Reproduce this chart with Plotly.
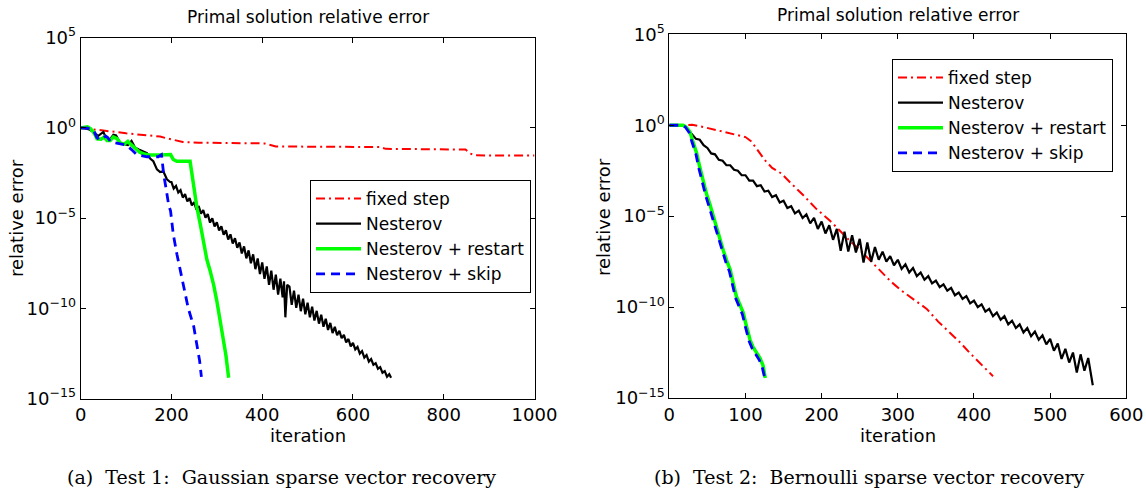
import plotly.graph_objects as go

# ---------------- data (log10 of relative error) ----------------
# Test 1 (left)
a_fixed_it = [0, 25, 50, 75, 100, 125, 150, 175, 190, 205, 225, 260, 300, 350, 405, 420, 430, 500, 550, 600, 660, 672, 700, 750, 800, 848, 858, 870, 920, 1000]
a_fixed_log = [0, -0.06, -0.14, -0.22, -0.3, -0.36, -0.42, -0.48, -0.58, -0.68, -0.78, -0.82, -0.84, -0.85, -0.86, -0.96, -1.03, -1.04, -1.04, -1.05, -1.06, -1.16, -1.17, -1.17, -1.18, -1.2, -1.42, -1.52, -1.53, -1.53]

a_nest_it = [0, 10, 20, 30, 38, 45, 50, 57, 65, 72, 78, 87, 95, 104, 112, 120, 128, 136, 146, 153, 160, 168, 175, 182, 190, 197,
             200, 205, 210, 215, 220, 225, 230, 235, 240, 245, 250, 255, 260, 265, 270, 275, 280, 285, 290, 295,
             300, 305, 310, 315, 320, 325, 330, 335, 340, 345, 350, 355, 360, 365, 370, 375, 380, 385, 390, 395,
             400, 405, 410, 415, 420, 425, 430, 435, 440, 445, 448, 451, 455, 460, 465, 470, 475, 480, 485, 490, 495,
             500, 505, 510, 515, 520, 525, 530, 535, 540, 545, 550, 555, 560, 565, 570, 575, 580, 585, 590, 595,
             600, 605, 610, 615, 620, 625, 630, 635, 640, 645, 650, 655, 660, 665, 670, 675, 680, 684]
a_nest_log = [0, -0.02, -0.1, -0.25, -0.45, -0.3, -0.22, -0.65, -0.62, -0.38, -0.42, -0.85, -0.9, -0.95, -0.72, -1.1, -1.2, -1.3, -1.4, -1.7, -1.85, -2.3, -2.45, -2.4, -2.85, -3.0,
              -3.0, -3.36, -3.22, -3.58, -3.45, -3.86, -3.67, -4.08, -3.89, -4.3, -4.12, -4.53, -4.34, -4.75, -4.56, -4.97, -4.78, -5.25, -5.01, -5.47,
              -5.23, -5.69, -5.45, -5.92, -5.68, -6.19, -5.9, -6.41, -6.12, -6.64, -6.35, -6.96, -6.57, -7.23, -6.79, -7.5, -7.01, -7.83, -7.24, -8.1,
              -7.46, -8.37, -7.68, -8.7, -7.91, -8.97, -8.13, -9.24, -8.35, -9.4, -8.5, -10.5, -8.7, -8.8, -9.81, -9.02, -9.98, -9.24, -10.16, -9.47, -10.33,
              -9.69, -10.5, -9.91, -10.68, -10.14, -10.85, -10.36, -11.02, -10.58, -11.2, -10.81, -11.37, -11.03, -11.49, -11.25, -11.66, -11.47, -11.89, -11.7, -12.11,
              -11.92, -12.28, -12.14, -12.51, -12.37, -12.73, -12.59, -12.95, -12.81, -13.13, -13.04, -13.35, -13.26, -13.57, -13.48, -13.79, -13.65, -13.85]

a_restart_it = [0, 8, 15, 22, 30, 36, 45, 52, 58, 65, 72, 80, 88, 96, 104, 110, 120, 130, 140, 150, 175, 198, 204, 212, 241, 249, 256, 264, 271, 278, 285, 293, 300, 307, 315, 320, 326]
a_restart_log = [0, 0.02, 0.06, -0.05, -0.3, -0.6, -0.62, -0.5, -0.7, -0.7, -0.5, -0.6, -0.85, -0.9, -0.75, -0.9, -1.15, -1.35, -1.45, -1.5, -1.5, -1.48, -1.75, -1.85, -1.85, -3.3, -4.4, -5.4, -6.4, -7.3, -7.9, -8.7, -9.6, -10.6, -11.7, -12.6, -13.85]

a_skip_it = [0, 15, 28, 35, 40, 47, 55, 60, 66, 83, 100, 112, 124, 146, 171, 178, 183, 189, 194, 198, 204, 212, 219, 226, 237, 249, 256, 262, 266]
a_skip_log = [0, -0.02, -0.1, -0.5, -0.65, -0.62, -0.45, -0.55, -0.78, -0.85, -0.95, -1.2, -1.5, -1.6, -1.6, -1.48, -2.6, -3.5, -4.3, -4.6, -5.9, -7.0, -7.8, -8.6, -10.0, -11.0, -12.0, -12.9, -13.8]

# Test 2 (right)
b_fixed_it = [0, 18, 30, 45, 60, 75, 90, 100, 108, 115, 125, 135, 147, 160, 176, 193, 211, 224, 238, 250, 262, 276, 291, 305, 320, 338, 353, 368, 382, 394, 406, 416, 425]
b_fixed_log = [0, 0.02, 0.02, -0.1, -0.25, -0.42, -0.55, -0.65, -0.9, -1.3, -1.9, -2.35, -2.65, -3.2, -3.85, -4.6, -5.25, -5.8, -6.4, -6.85, -7.35, -7.95, -8.6, -9.1, -9.55, -10.1, -10.8, -11.4, -11.95, -12.5, -13.0, -13.4, -13.8]

b_nest_it = [0, 10, 18, 22, 27, 30, 35, 40, 45, 50, 55, 60, 65, 70, 75, 80, 85, 90, 95,
             100, 105, 110, 115, 120, 125, 130, 135, 140, 145, 150, 155, 160, 165, 170, 175, 180, 185, 190, 195,
             200, 205, 210, 215, 220, 225, 230, 235, 240, 245, 250, 255, 260, 265, 270, 275, 280, 285, 290, 295,
             300, 305, 310, 315, 320, 325, 330, 335, 340, 345, 350, 355, 360, 365, 370, 375, 380, 385, 390, 395,
             400, 405, 410, 415, 420, 425, 430, 435, 440, 445, 450, 455, 460, 465, 470, 475, 480, 485, 490, 495,
             500, 505, 510, 515, 520, 525, 530, 535, 540, 545, 550, 556]
b_nest_log = [0, 0, 0, -0.12, -0.36, -0.5, -0.75, -0.8, -1.1, -1.25, -1.55, -1.6, -1.9, -1.95, -2.2, -2.2, -2.45, -2.5, -2.75,
              -2.75, -3.05, -3.05, -3.35, -3.3, -3.65, -3.6, -3.95, -3.85, -4.25, -4.15, -4.55, -4.45, -4.85, -4.7, -5.1, -4.9, -5.4, -5.1, -5.7,
              -5.3, -5.95, -5.5, -6.3, -5.7, -6.9, -5.85, -6.95, -6.05, -7.0, -6.25, -7.55, -6.45, -7.5, -6.7, -7.4, -6.95, -7.5, -7.2, -7.7,
              -7.4, -7.9, -7.65, -8.1, -7.85, -8.3, -8.1, -8.5, -8.3, -8.7, -8.55, -8.9, -8.75, -9.1, -8.95, -9.35, -9.2, -9.55, -9.4, -9.8,
              -9.65, -10.0, -9.85, -10.25, -10.1, -10.5, -10.3, -10.7, -10.5, -10.95, -10.75, -11.15, -10.95, -11.4, -11.15, -11.6, -11.35, -11.8, -11.55, -12.05,
              -11.75, -12.4, -12.0, -12.85, -12.3, -13.05, -12.5, -13.6, -12.6, -13.5, -12.8, -14.3]

b_restart_it = [0, 10, 18, 22, 27, 31, 36, 40, 45, 49, 53, 57, 62, 66, 71, 75, 80, 84, 88, 93, 97, 101, 106, 110, 115, 119, 123, 126]
b_restart_log = [0, 0, 0, -0.1, -0.36, -0.9, -1.55, -2.3, -3.2, -3.8, -4.3, -4.9, -5.6, -6.2, -6.9, -7.4, -7.95, -8.7, -9.4, -9.9, -10.3, -11.0, -11.8, -12.2, -12.5, -12.8, -13.2, -13.9]

b_skip_it = [0, 10, 17, 21, 26, 30, 35, 39, 44, 48, 52, 56, 61, 65, 70, 74, 79, 83, 87, 92, 96, 100, 105, 109, 114, 118, 122, 125]
b_skip_log = [0, 0, 0, -0.1, -0.4, -0.95, -1.6, -2.4, -3.3, -3.9, -4.45, -5.0, -5.7, -6.3, -7.0, -7.5, -8.05, -8.8, -9.5, -10.0, -10.4, -11.1, -11.9, -12.3, -12.6, -12.9, -13.3, -13.85]

names = ["fixed step", "Nesterov", "Nesterov + restart", "Nesterov + skip"]
y_tickvals = [1e-15, 1e-10, 1e-5, 1, 1e5]
y_ticktext = ["10<sup>\u221215</sup>", "10<sup>\u221210</sup>", "10<sup>\u22125</sup>", "10<sup>0</sup>", "10<sup>5</sup>"]
a_xticks = [0, 200, 400, 600, 800, 1000]
b_xticks = [0, 100, 200, 300, 400, 500, 600]
title_text = "Primal solution relative error"
xlabel = "iteration"
ylabel = "relative error"
caption_a = "(a)  Test 1:  Gaussian sparse vector recovery"
caption_b = "(b)  Test 2:  Bernoulli sparse vector recovery"


def vals(logs):
    return [10 ** v for v in logs]


W, H = 1146, 488
SANS = "DejaVu Sans"
styles = [
    dict(color="#ff0000", width=2, dash="9px,4px,2px,4px"),
    dict(color="#000000", width=2.2),
    dict(color="#00ff00", width=3.5),
    dict(color="#0000ff", width=2.8, dash="9px,6px"),
]

fig = go.Figure()
series_a = [(a_fixed_it, a_fixed_log), (a_nest_it, a_nest_log), (a_restart_it, a_restart_log), (a_skip_it, a_skip_log)]
series_b = [(b_fixed_it, b_fixed_log), (b_nest_it, b_nest_log), (b_restart_it, b_restart_log), (b_skip_it, b_skip_log)]
for i, (xs, ls) in enumerate(series_a):
    fig.add_trace(go.Scatter(x=xs, y=vals(ls), mode="lines", name=names[i], line=styles[i],
                             xaxis="x", yaxis="y", legend="legend"))
for i, (xs, ls) in enumerate(series_b):
    fig.add_trace(go.Scatter(x=xs, y=vals(ls), mode="lines", name=names[i], line=styles[i],
                             xaxis="x2", yaxis="y2", legend="legend2"))

axis_common = dict(showline=True, linecolor="black", linewidth=1, mirror="ticks", ticks="inside",
                   ticklen=5, tickcolor="black", showgrid=False, zeroline=False, automargin=False,
                   tickfont=dict(family=SANS, size=18, color="black"))

legend_common = dict(xanchor="left", yanchor="top", bgcolor="white", bordercolor="black", borderwidth=1,
                     itemwidth=45, tracegroupgap=0, font=dict(family=SANS, size=17, color="black"))

fig.update_layout(
    width=W, height=H, margin=dict(l=0, r=0, t=0, b=0, pad=0), autosize=False,
    paper_bgcolor="white", plot_bgcolor="white",
    xaxis=dict(domain=[80.7 / W, 534.5 / W], range=[0, 1000], tickvals=a_xticks, anchor="y", **axis_common),
    yaxis=dict(domain=[(H - 398.5) / H, (H - 37.7) / H], type="log", range=[-15, 5],
               tickvals=y_tickvals, ticktext=y_ticktext, anchor="x", **axis_common),
    xaxis2=dict(domain=[669.3 / W, 1126.3 / W], range=[0, 600], tickvals=b_xticks, anchor="y2", **axis_common),
    yaxis2=dict(domain=[(H - 398) / H, (H - 34.3) / H], type="log", range=[-15, 5],
                tickvals=y_tickvals, ticktext=y_ticktext, anchor="x2", **axis_common),
    legend=dict(x=310 / W, y=(H - 180) / H, **legend_common),
    legend2=dict(x=892 / W, y=(H - 59) / H, **legend_common),
    showlegend=True,
)

ann = []
for cx, ty in [(307.6, 17), (897.8, 15)]:
    ann.append(dict(text=title_text, x=cx / W, y=(H - ty) / H, xref="paper", yref="paper",
                    showarrow=False, xanchor="center", yanchor="middle",
                    font=dict(family=SANS, size=17, color="black")))
    ann.append(dict(text=xlabel, x=cx / W, y=(H - 435) / H, xref="paper", yref="paper",
                    showarrow=False, xanchor="center", yanchor="middle",
                    font=dict(family=SANS, size=18, color="black")))
for lx, ly in [(16, 218), (603, 217)]:
    ann.append(dict(text=ylabel, x=lx / W, y=(H - ly) / H, xref="paper", yref="paper", textangle=-90,
                    showarrow=False, xanchor="center", yanchor="middle",
                    font=dict(family=SANS, size=18, color="black")))
for cx, txt in [(281, caption_a), (869, caption_b)]:
    ann.append(dict(text=txt, x=cx / W, y=(H - 477) / H, xref="paper", yref="paper",
                    showarrow=False, xanchor="center", yanchor="middle",
                    font=dict(family="DejaVu Serif", size=19, color="black")))
fig.update_layout(annotations=ann)

fig.write_html("out.html", config={"displayModeBar": False},
               post_script="document.body.style.margin='0';document.body.style.overflow='hidden';")
